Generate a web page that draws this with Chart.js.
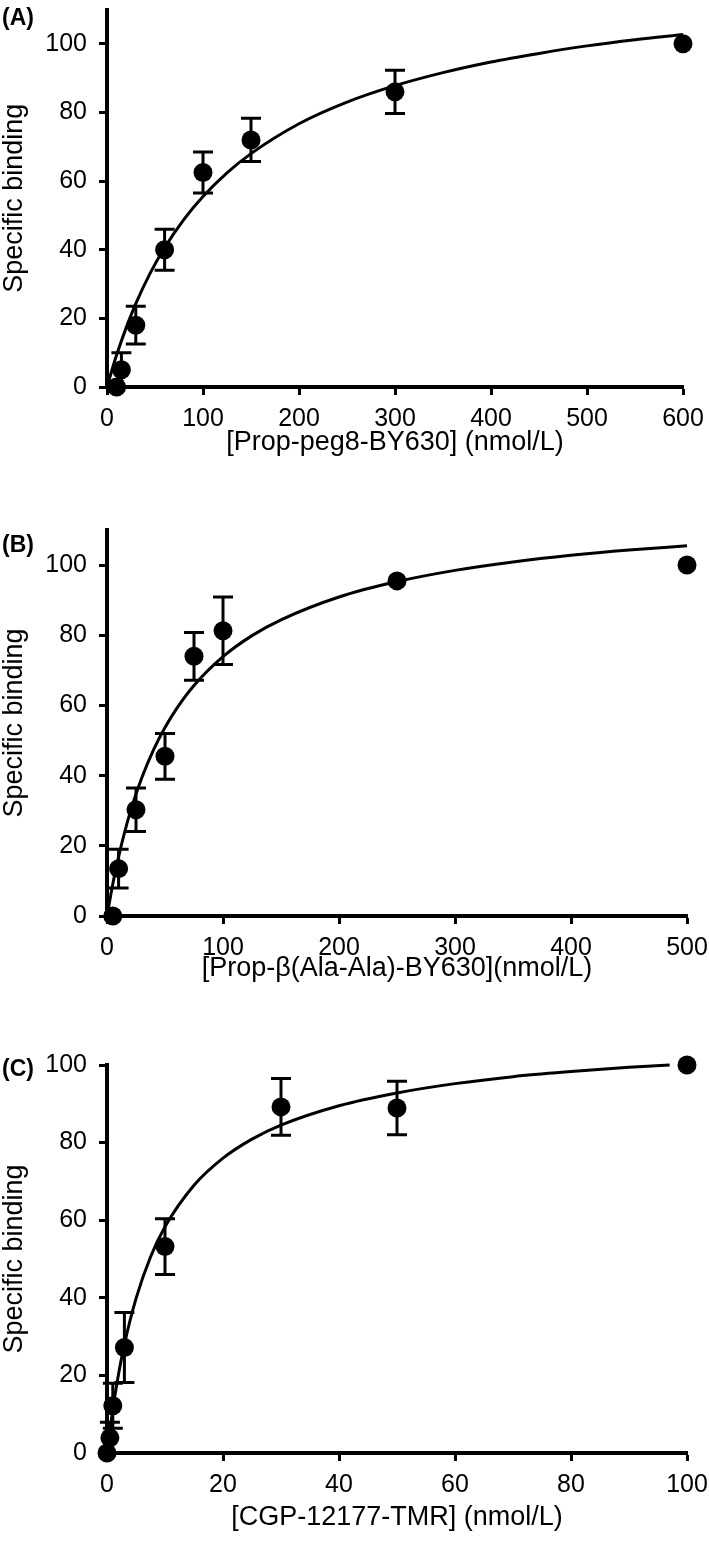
<!DOCTYPE html>
<html lang="en">
<head>
<meta charset="UTF-8">
<meta name="viewport" content="width=device-width, initial-scale=1.0">
<title>Specific binding saturation curves</title>
<style>
    body {
        margin: 0;
        background: #ffffff;
        font-family: 'Liberation Sans', Arial, sans-serif;
    }

    .page {
        position: relative;
        width: 709px;
        height: 1545px;
        overflow: hidden;
    }

    .panel {
        position: absolute;
        left: 0;
    }

    .panel canvas {
        display: block;
    }

    .tag {
        position: absolute;
        left: 2px;
        font-size: 23px;
        font-weight: bold;
        line-height: 1;
        color: #000;
    }
</style>
</head>
<body>
<div class="page">
    <div class="panel" style="top:0"><canvas id="chartA" width="709" height="470"></canvas></div>
    <div class="panel" style="top:500px"><canvas id="chartB" width="709" height="490"></canvas></div>
    <div class="panel" style="top:1000px"><canvas id="chartC" width="709" height="545"></canvas></div>

    <div class="tag" style="top:6px">(A)</div>
    <div class="tag" style="top:533px">(B)</div>
    <div class="tag" style="top:1057px">(C)</div>
</div>

<script src="https://cdn.jsdelivr.net/npm/chart.js"></script>
<script>
// ---- data ----
const yTicks = [0, 20, 40, 60, 80, 100];

// (A) Prop-peg8-BY630
const aConc = [10, 15, 30, 60, 100, 150, 300, 600];
const aBinding = [0, 5, 18, 40, 62.5, 72, 86, 100];
const aError = [0, 5, 5.5, 6, 6, 6.3, 6.3, 0];
const aFitConc = [0, 5, 10, 20, 30, 45, 60, 80, 100, 125, 150, 200, 250, 300, 350, 400, 450, 500, 550, 600];
const aFitBinding = [0, 4.8, 9.3, 17.3, 24.3, 33.2, 40.6, 48.8, 55.5, 62.4, 68.0, 76.7, 83.0, 87.8, 91.6, 94.7, 97.2, 99.4, 101.2, 102.7];
const aXTicks = [0, 100, 200, 300, 400, 500, 600];

// (B) Prop-beta(Ala-Ala)-BY630
const bConc = [5, 10, 25, 50, 75, 100, 250, 500];
const bBinding = [0, 13.5, 30.3, 45.5, 74, 81.3, 95.5, 100];
const bError = [0, 5.5, 6.2, 6.5, 6.8, 9.6, 0, 0];
const bFitConc = [0, 5, 10, 20, 30, 40, 50, 60, 75, 100, 125, 150, 200, 250, 300, 350, 400, 450, 500];
const bFitBinding = [0, 9.1, 16.9, 29.6, 39.4, 47.3, 53.7, 59.1, 65.7, 73.9, 79.9, 84.4, 90.9, 95.3, 98.5, 100.9, 102.8, 104.3, 105.5];
const bXTicks = [0, 100, 200, 300, 400, 500];

// (C) CGP-12177-TMR
const cConc = [0, 0.5, 1, 3, 10, 30, 50, 100];
const cBinding = [0, 3.9, 12.2, 27.2, 53.2, 89.2, 88.9, 100];
const cError = [0, 4, 5.8, 9, 7.2, 7.3, 6.9, 0];
const cFitConc = [0, 0.5, 1, 2, 3, 5, 7.5, 10, 15, 20, 25, 30, 40, 50, 60, 70, 80, 90, 97];
const cFitBinding = [0, 5.9, 11.2, 20.4, 28.0, 39.8, 50.5, 58.3, 69.0, 76.0, 80.9, 84.5, 89.5, 92.8, 95.2, 97.0, 98.3, 99.4, 100.0];
const cXTicks = [0, 20, 40, 60, 80, 100];

const FONT = "'Liberation Sans', Arial, sans-serif";

// mean +/- SEM bars drawn through the chart scales
const errorBars = {
    id: 'errorBars',
    afterDatasetsDraw(chart) {
        const { ctx, scales: { x, y } } = chart;
        chart.data.datasets.forEach(ds => {
            if (!ds.errors) return;
            ctx.save();
            ctx.strokeStyle = '#000';
            ctx.lineWidth = 3;
            ds.data.forEach((p, i) => {
                const e = ds.errors[i];
                if (!e) return;
                const px = x.getPixelForValue(p.x);
                const top = y.getPixelForValue(p.y + e);
                const bot = y.getPixelForValue(p.y - e);
                ctx.beginPath();
                ctx.moveTo(px, top); ctx.lineTo(px, bot);
                ctx.moveTo(px - 10, top); ctx.lineTo(px + 10, top);
                ctx.moveTo(px - 10, bot); ctx.lineTo(px + 10, bot);
                ctx.stroke();
            });
            ctx.restore();
        });
    }
};

function makePanel(id, p) {
    const axisGrid = { drawOnChartArea: false, drawTicks: true, tickLength: 8, tickWidth: 3, tickColor: '#000' };
    const axisBorder = { display: true, color: '#000', width: 4 };

    new Chart(document.getElementById(id), {
        type: 'scatter',
        data: {
            datasets: [
                {
                    data: p.fitX.map((x, i) => ({ x: x, y: p.fitY[i] })),
                    showLine: true,
                    borderColor: '#000',
                    borderWidth: 3,
                    pointRadius: 0,
                    cubicInterpolationMode: 'monotone',
                    clip: false
                },
                {
                    data: p.x.map((x, i) => ({ x: x, y: p.y[i] })),
                    errors: p.err,
                    pointRadius: 9.5,
                    pointHoverRadius: 9.5,
                    backgroundColor: '#000',
                    borderWidth: 0,
                    clip: false
                }
            ]
        },
        options: {
            responsive: false,
            animation: false,
            events: [],
            layout: { padding: { top: p.padTop, right: p.padRight, left: 0, bottom: 0 } },
            plugins: { legend: { display: false }, tooltip: { enabled: false } },
            scales: {
                x: {
                    type: 'linear',
                    min: p.xTicks[0],
                    max: p.xTicks[p.xTicks.length - 1],
                    afterBuildTicks: s => { s.ticks = p.xTicks.map(v => ({ value: v })); },
                    afterFit: s => { s.height = p.xAxisHeight; s.paddingLeft = 0; s.paddingRight = 0; },
                    grid: axisGrid,
                    border: axisBorder,
                    ticks: { color: '#000', font: { family: FONT, size: 25 }, padding: 9, maxRotation: 0, autoSkip: false },
                    title: {
                        display: true,
                        text: p.xTitle,
                        color: '#000',
                        font: { family: FONT, size: 27, lineHeight: 1 },
                        padding: { top: 0, bottom: p.titlePad }
                    }
                },
                y: {
                    type: 'linear',
                    min: 0,
                    max: p.yMax,
                    afterBuildTicks: s => { s.ticks = yTicks.map(v => ({ value: v })); },
                    afterFit: s => { s.width = 107; s.paddingTop = 0; s.paddingBottom = 0; },
                    grid: axisGrid,
                    border: axisBorder,
                    ticks: { color: '#000', font: { family: FONT, size: 25 }, padding: 12 },
                    title: {
                        display: true,
                        text: 'Specific binding',
                        color: '#000',
                        font: { family: FONT, size: 27, lineHeight: 1 },
                        padding: { top: 1, bottom: 0 }
                    }
                }
            }
        },
        plugins: [errorBars]
    });
}

makePanel('chartA', {
    x: aConc, y: aBinding, err: aError, fitX: aFitConc, fitY: aFitBinding,
    xTicks: aXTicks, yMax: 110, xTitle: '[Prop-peg8-BY630] (nmol/L)',
    padTop: 0, padRight: 26, xAxisHeight: 83, titlePad: 14
});

makePanel('chartB', {
    x: bConc, y: bBinding, err: bError, fitX: bFitConc, fitY: bFitBinding,
    xTicks: bXTicks, yMax: 110, xTitle: '[Prop-\u03b2(Ala-Ala)-BY630](nmol/L)',
    padTop: 30, padRight: 22, xAxisHeight: 74, titlePad: 8
});

makePanel('chartC', {
    x: cConc, y: cBinding, err: cError, fitX: cFitConc, fitY: cFitBinding,
    xTicks: cXTicks, yMax: 100, xTitle: '[CGP-12177-TMR] (nmol/L)',
    padTop: 65, padRight: 22, xAxisHeight: 92, titlePad: 14
});
</script>
</body>
</html>
